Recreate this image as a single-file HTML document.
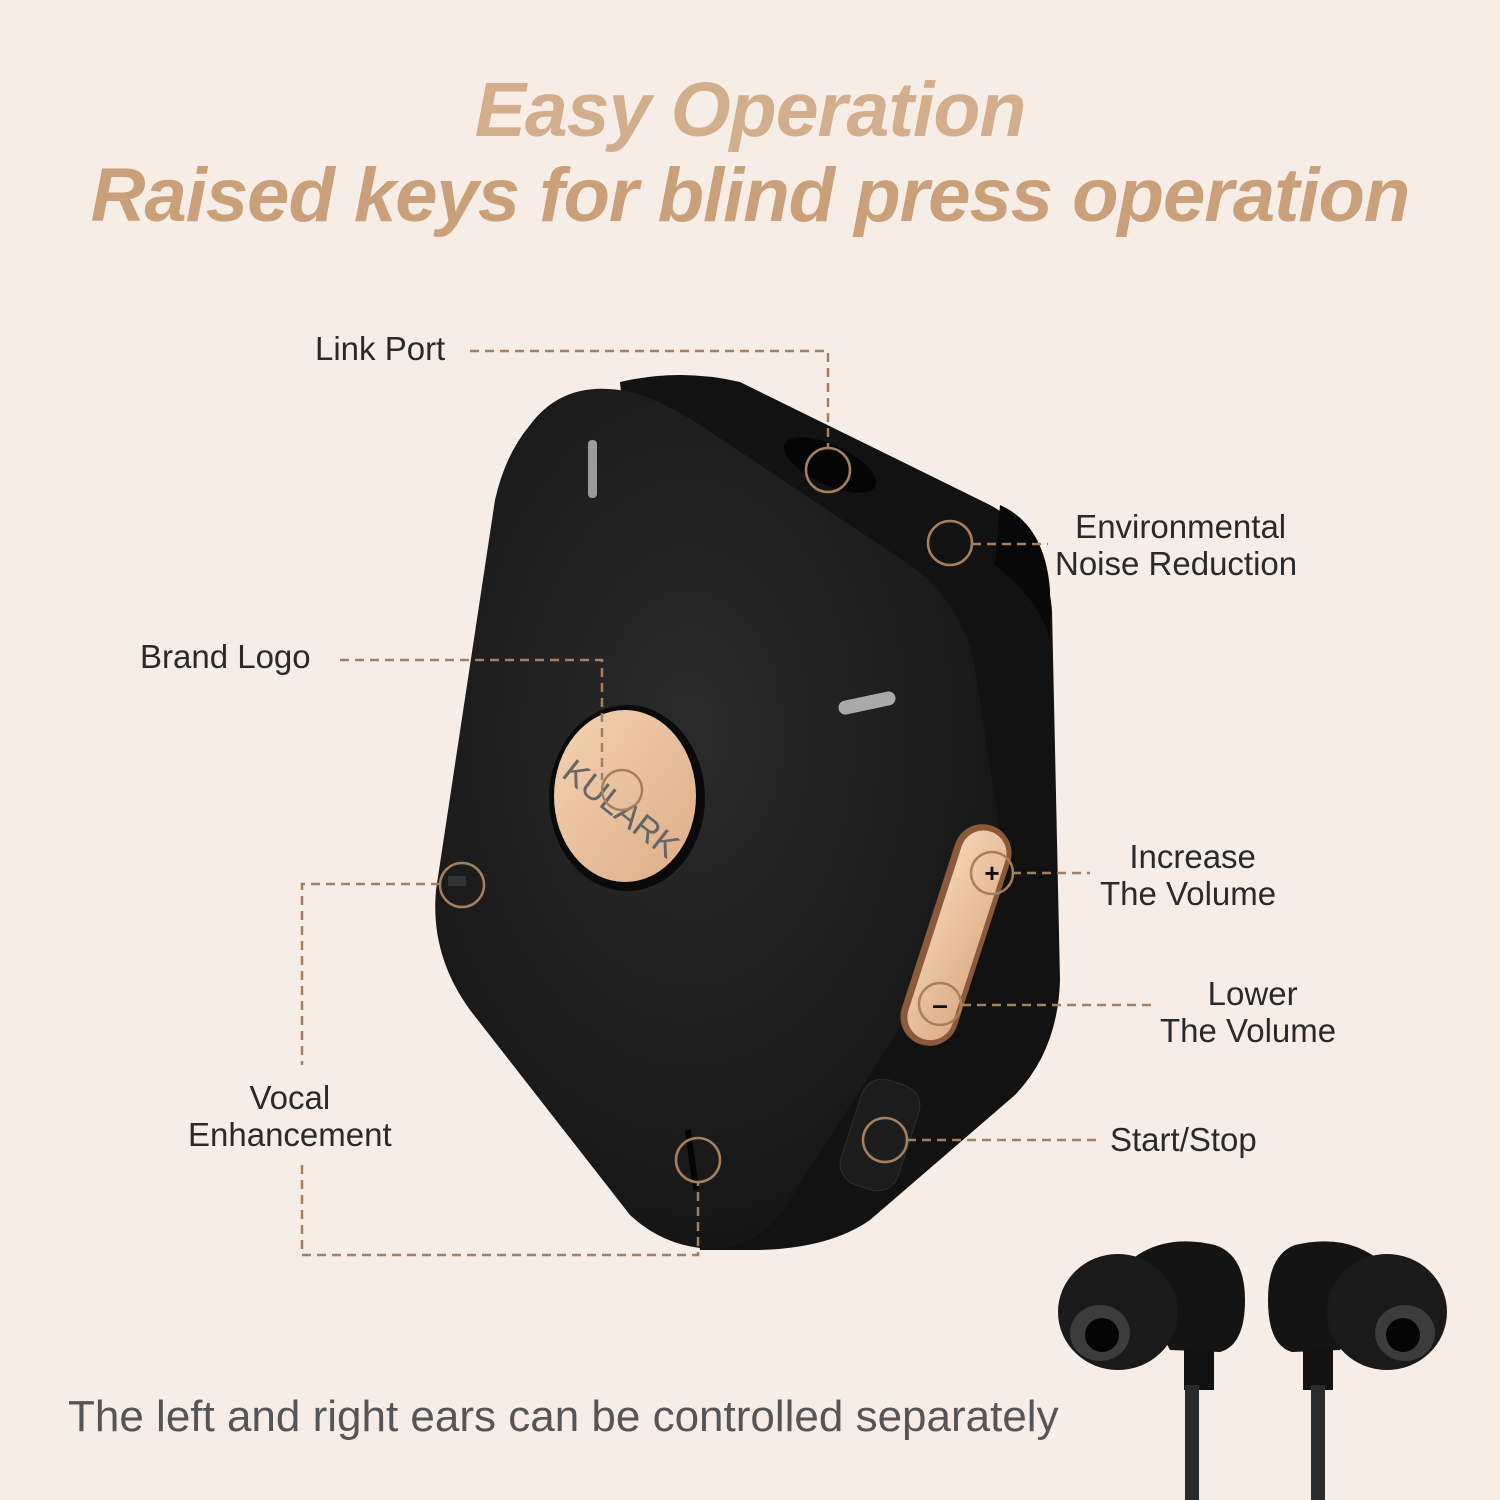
<!DOCTYPE html>
<html><head><meta charset="utf-8"><style>
html,body{margin:0;padding:0;width:1500px;height:1500px;overflow:hidden;background:#f6ede7}
.t{position:absolute;font-family:"Liberation Sans",sans-serif;font-weight:bold;font-style:italic;text-align:center;left:0;width:1500px;letter-spacing:-1px}
.l{position:absolute;font-family:"Liberation Sans",sans-serif;font-size:33px;color:#2a2a2a;line-height:37px;white-space:nowrap}
</style></head><body>
<div class="t" style="top:66px;font-size:77px;color:#d2ae8c">Easy Operation</div>
<div class="t" style="top:152px;font-size:76px;color:#c9a07a">Raised keys for blind press operation</div>
<svg width="1500" height="1500" style="position:absolute;left:0;top:0">
<defs>
<radialGradient id="g" cx="45%" cy="40%" r="60%"><stop offset="0" stop-color="#2b2b2b"/><stop offset="1" stop-color="#161616"/></radialGradient>
<linearGradient id="gold" x1="0" y1="0" x2="1" y2="1"><stop offset="0" stop-color="#f4d2b2"/><stop offset="1" stop-color="#dcae88"/></linearGradient>
</defs>
<!-- side body -->
<path d="M620 382 Q680 368 740 382 L990 505 Q1045 535 1052 610 L1060 980 Q1058 1050 1015 1095 L870 1220 Q830 1248 760 1250 L700 1250 Z" fill="#121212"/>
<path d="M1000 505 Q1045 525 1050 590 L1050 640 Q1040 600 995 565 Z" fill="#080808"/>
<!-- front face -->
<path d="M530 425 Q565 378 630 392 Q660 400 700 425 L910 565 Q965 605 975 670 L998 820 Q1004 860 985 895 L780 1215 Q750 1252 700 1248 Q660 1243 630 1215 L470 1010 Q430 955 436 890 L495 500 Q505 455 530 425 Z" fill="url(#g)"/>
<!-- indicators -->
<rect x="588" y="440" width="9" height="58" rx="4" fill="#9a9a9a"/>
<rect x="838" y="696" width="58" height="14" rx="7" fill="#aaa" transform="rotate(-12 867 703)"/>
<ellipse cx="830" cy="465" rx="50" ry="20" fill="#050505" transform="rotate(25 830 465)"/>
<!-- logo -->
<ellipse cx="627" cy="798" rx="78" ry="93" fill="#0a0a0a"/>
<ellipse cx="625" cy="796" rx="71" ry="86" fill="url(#gold)"/>
<text x="620" y="820" font-family="Liberation Sans,sans-serif" font-size="34" fill="#666" transform="rotate(38 620 810)" text-anchor="middle">KULARK</text>
<!-- slider -->
<rect x="927" y="820" width="58" height="230" rx="29" fill="#8a5a3a" transform="rotate(18 956 935)"/>
<rect x="934" y="826" width="46" height="218" rx="23" fill="url(#gold)" transform="rotate(18 956 935)"/>
<text x="992" y="882" font-family="Liberation Sans,sans-serif" font-size="26" font-weight="bold" fill="#111" text-anchor="middle">+</text>
<text x="940" y="1014" font-family="Liberation Sans,sans-serif" font-size="28" font-weight="bold" fill="#111" text-anchor="middle">–</text>
<!-- power button -->
<rect x="850" y="1080" width="60" height="110" rx="22" fill="#1c1c1c" stroke="#2e2e2e" transform="rotate(18 880 1135)"/>
<rect x="448" y="876" width="18" height="10" fill="#333"/>
<rect x="689" y="1130" width="6" height="60" fill="#050505" transform="rotate(-8 692 1160)"/>
<!-- dashed connectors -->
<g stroke="#a4805f" stroke-width="2.5" stroke-dasharray="9 6" fill="none">
<path d="M470 351 H828 V448"/>
<path d="M972 544 H1048"/>
<path d="M340 660 H602 V780"/>
<path d="M440 884 H302 V1065 M302 1165 V1255 H698 V1182"/>
<path d="M1012 873 H1090"/>
<path d="M962 1005 H1155"/>
<path d="M907 1140 H1100"/>
</g>
<g stroke="#a4805f" stroke-width="2.5" fill="none">
<circle cx="828" cy="470" r="22"/>
<circle cx="950" cy="543" r="22"/>
<circle cx="622" cy="790" r="20"/>
<circle cx="462" cy="885" r="22"/>
<circle cx="698" cy="1160" r="22"/>
<circle cx="992" cy="873" r="21"/>
<circle cx="940" cy="1004" r="21"/>
<circle cx="885" cy="1140" r="22"/>
</g>
<!-- earbuds -->
<g fill="#141414">
<rect x="1184" y="1350" width="30" height="40" fill="#111"/>
<rect x="1185" y="1385" width="14" height="115" fill="#2a2a2a"/>
<path d="M1125 1265 Q1160 1232 1215 1245 Q1245 1255 1245 1300 Q1245 1345 1220 1352 L1170 1350 Z"/>
<ellipse cx="1118" cy="1312" rx="60" ry="58" fill="#1a1a1a"/>
<ellipse cx="1100" cy="1333" rx="30" ry="28" fill="#3c3c3c"/>
<ellipse cx="1102" cy="1335" rx="17" ry="17" fill="#050505"/>
<rect x="1303" y="1350" width="30" height="40" fill="#111"/>
<rect x="1311" y="1385" width="14" height="115" fill="#2a2a2a"/>
<path d="M1385 1265 Q1350 1232 1295 1245 Q1268 1255 1268 1300 Q1268 1345 1292 1352 L1340 1350 Z"/>
<ellipse cx="1387" cy="1312" rx="60" ry="58" fill="#1a1a1a"/>
<ellipse cx="1405" cy="1333" rx="30" ry="28" fill="#3c3c3c"/>
<ellipse cx="1403" cy="1335" rx="17" ry="17" fill="#050505"/>
</g>
</svg>
<div class="l" style="left:315px;top:330px">Link Port</div>
<div class="l" style="left:1055px;top:508px;text-align:center">&nbsp;Environmental<br>Noise Reduction</div>
<div class="l" style="left:140px;top:638px">Brand Logo</div>
<div class="l" style="left:1100px;top:838px;text-align:center">&nbsp;Increase<br>The Volume</div>
<div class="l" style="left:1160px;top:975px;text-align:center">&nbsp;Lower<br>The Volume</div>
<div class="l" style="left:188px;top:1079px;text-align:center">Vocal<br>Enhancement</div>
<div class="l" style="left:1110px;top:1121px">Start/Stop</div>
<div class="l" style="left:68px;top:1393px;font-size:44px;color:#555;line-height:48px">The left and right ears can be controlled separately</div>
</body></html>
